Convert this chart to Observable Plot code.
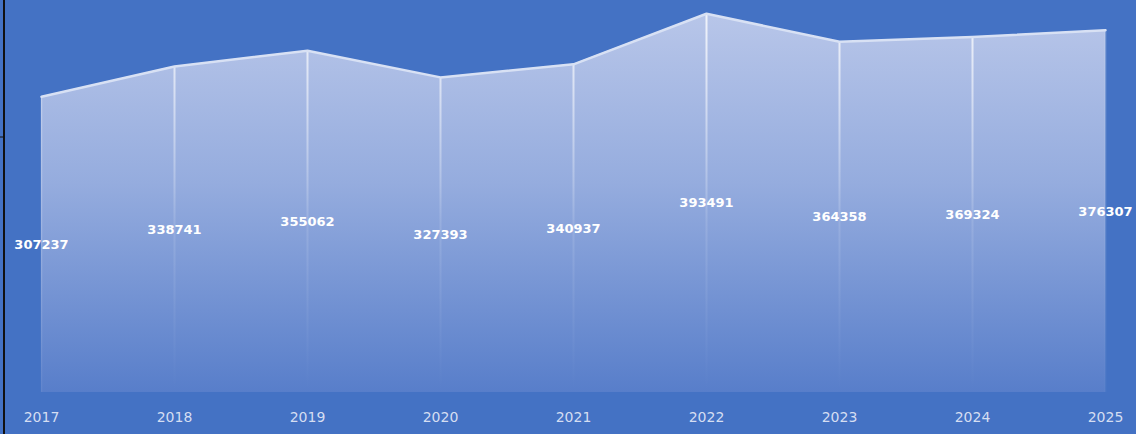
<!DOCTYPE html>
<html>
<head>
<meta charset="utf-8">
<script src="https://cdn.jsdelivr.net/npm/d3@7"></script>
<script src="https://cdn.jsdelivr.net/npm/@observablehq/plot@0.6"></script>
<style>
  html, body { margin: 0; padding: 0; background: #4472c4; }
  #chart { width: 1136px; height: 434px; overflow: hidden; }
</style>
</head>
<body>
<div id="chart"></div>
<script>
const years = ["2017", "2018", "2019", "2020", "2021", "2022", "2023", "2024", "2025"];
const values = [307237, 338741, 355062, 327393, 340937, 393491, 364358, 369324, 376307];

const data = years.map((year, i) => ({year, value: values[i]}));

const plot = Plot.plot({
  width: 1136,
  height: 434,
  marginLeft: 38,
  marginRight: 29,
  marginTop: 7,
  marginBottom: 42,
  style: {background: "#4472c4", fontFamily: "DejaVu Sans", overflow: "visible"},
  x: {type: "point", domain: years, padding: 0, label: null},
  y: {domain: [0, 400000], axis: null},
  marks: [
    Plot.areaY(data, {x: "year", y: "value", fill: "url(#areaGrad)"}),
    Plot.ruleX(data.slice(1, -1), {x: "year", y1: 0, y2: "value", stroke: "url(#ruleGrad)", strokeWidth: 2}),
    Plot.ruleX([data[0], data[data.length - 1]], {x: "year", y1: 0, y2: "value", stroke: "url(#edgeGrad)", strokeWidth: 1.5}),
    Plot.lineY(data, {x: "year", y: "value", stroke: "#d8e1f4", strokeWidth: 2.5}),
    Plot.text(data, {x: "year", y: d => d.value / 2, text: d => String(d.value), fill: "white", fontWeight: "bold", fontSize: 13}),
    Plot.axisX({tickSize: 0, tickPadding: 20, fontSize: 14, color: "#d5def2", fill: "#d5def2"})
  ]
});

// gradient definitions
const svg = d3.select(plot);
const defs = svg.insert("defs", ":first-child");
const ag = defs.append("linearGradient").attr("id", "areaGrad")
  .attr("gradientUnits", "userSpaceOnUse").attr("x1", 0).attr("x2", 0).attr("y1", 13).attr("y2", 392);
ag.append("stop").attr("offset", "0%").attr("stop-color", "#b8c6e9");
ag.append("stop").attr("offset", "45%").attr("stop-color", "#95acde");
ag.append("stop").attr("offset", "100%").attr("stop-color", "#587eca");
const rg = defs.append("linearGradient").attr("id", "ruleGrad")
  .attr("gradientUnits", "userSpaceOnUse").attr("x1", 0).attr("x2", 0).attr("y1", 13).attr("y2", 392);
rg.append("stop").attr("offset", "0%").attr("stop-color", "#ffffff").attr("stop-opacity", 0.8);
rg.append("stop").attr("offset", "55%").attr("stop-color", "#ffffff").attr("stop-opacity", 0.12);
rg.append("stop").attr("offset", "100%").attr("stop-color", "#ffffff").attr("stop-opacity", 0);
const eg = defs.append("linearGradient").attr("id", "edgeGrad")
  .attr("gradientUnits", "userSpaceOnUse").attr("x1", 0).attr("x2", 0).attr("y1", 13).attr("y2", 392);
eg.append("stop").attr("offset", "0%").attr("stop-color", "#ffffff").attr("stop-opacity", 0.35);
eg.append("stop").attr("offset", "100%").attr("stop-color", "#ffffff").attr("stop-opacity", 0.05);

// left border line and small tick
svg.append("line").attr("x1", 4).attr("x2", 4).attr("y1", 0).attr("y2", 434).attr("stroke", "#111").attr("stroke-width", 2);
svg.append("line").attr("x1", 0).attr("x2", 5).attr("y1", 137).attr("y2", 137).attr("stroke", "#111").attr("stroke-width", 1);

document.getElementById("chart").append(plot);
</script>
</body>
</html>
